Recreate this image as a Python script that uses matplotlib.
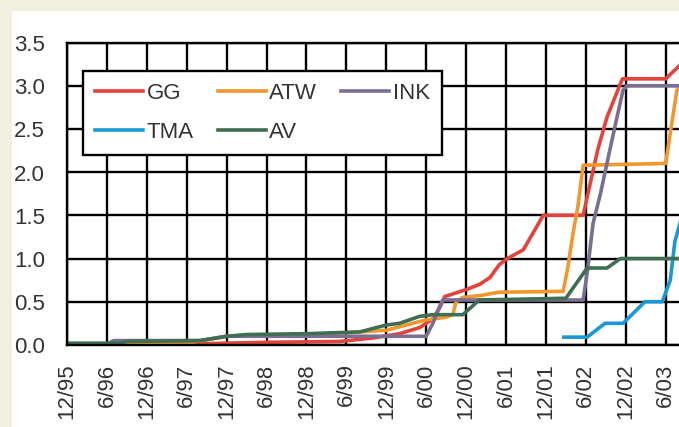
import matplotlib
matplotlib.use("Agg")
import matplotlib.pyplot as plt
from matplotlib.patches import Rectangle

# months counted from 12/95
tick_labels = ["12/95", "6/96", "12/96", "6/97", "12/97", "6/98", "12/98", "6/99",
               "12/99", "6/00", "12/00", "6/01", "12/01", "6/02", "12/02", "6/03"]

gg_x = [0, 18, 30, 41, 46, 50, 53, 55, 56.1, 56.8, 58, 60, 62, 63.6, 65, 66.2,
        68.6, 70.1, 71.6, 77.6, 78.2, 79.8, 81.2, 83.5, 90, 93]
gg_y = [0.01, 0.01, 0.03, 0.04, 0.08, 0.13, 0.2, 0.3, 0.44, 0.56, 0.59, 0.64, 0.7, 0.78,
        0.93, 1.0, 1.1, 1.3, 1.5, 1.5, 1.71, 2.26, 2.64, 3.08, 3.08, 3.3]

atw_x = [0, 18, 24, 36, 42, 48, 51, 54, 57, 58, 58.5, 59.5, 62, 65, 74.6, 75.3,
         76.1, 76.8, 77.6, 90, 91.7, 93]
atw_y = [0.0, 0.02, 0.1, 0.12, 0.14, 0.17, 0.23, 0.29, 0.32, 0.35, 0.5, 0.55, 0.57,
         0.61, 0.62, 0.9, 1.3, 1.6, 2.08, 2.1, 2.95, 3.0]

ink_x = [0, 6, 7, 20, 24, 30, 54, 55, 56.1, 56.5, 77.6, 78.2, 79.1, 80.2, 81.4,
         82.7, 83.6, 84.2, 93]
ink_y = [0.0, 0.01, 0.05, 0.05, 0.1, 0.1, 0.1, 0.25, 0.46, 0.52, 0.52, 0.83, 1.41,
         1.75, 2.18, 2.64, 2.95, 3.0, 3.0]

tma_x = [74.7, 78.2, 80.9, 83.6, 86.9, 89.5, 90.7, 91.4, 92.5]
tma_y = [0.09, 0.09, 0.25, 0.25, 0.5, 0.5, 0.75, 1.2, 1.5]

av_x = [0, 8, 9, 20, 24, 27, 36, 44, 48, 50, 53, 55, 59.5, 62, 75, 78.2, 81.2, 83.2, 93]
av_y = [0.02, 0.02, 0.04, 0.05, 0.1, 0.12, 0.13, 0.15, 0.23, 0.25, 0.33, 0.35, 0.35,
        0.52, 0.54, 0.89, 0.89, 1.0, 1.0]

plt.rcParams["font.family"] = ["Liberation Sans", "DejaVu Sans"]

W, H = 679, 427
fig = plt.figure(figsize=(6.795, 4.275), dpi=100, facecolor="#f1efe0")

# background: beige figure, white panel from (12, 11) down to the bottom right
bg = fig.add_axes([0, 0, 1, 1], zorder=-10)
bg.set_xlim(0, W)
bg.set_ylim(H, 0)
bg.axis("off")
bg.add_patch(Rectangle((12, 11), W + 10, H + 10, facecolor="white", edgecolor="none",
                       clip_on=False))

ax = fig.add_axes([67 / W, (H - 345) / H, 638 / W, 302 / H])
ax.patch.set_alpha(0)
lw = 2.6
ax.plot(gg_x, gg_y, color="#e2433a", lw=lw, label="GG")
ax.plot(atw_x, atw_y, color="#f0982e", lw=lw, label="ATW")
ax.plot(ink_x, ink_y, color="#7a6e93", lw=lw, label="INK")
ax.plot(tma_x, tma_y, color="#1a98d5", lw=lw, label="TMA")
ax.plot(av_x, av_y, color="#3f6e52", lw=lw, label="AV")

ax.set_xlim(0, 96)
ax.set_ylim(0, 3.5)
ax.set_xticks([6 * i for i in range(len(tick_labels))])
ax.set_xticklabels(tick_labels, rotation=90)
ax.set_yticks([0, 0.5, 1.0, 1.5, 2.0, 2.5, 3.0, 3.5])
ax.set_yticklabels(["0.0", "0.5", "1.0", "1.5", "2.0", "2.5", "3.0", "3.5"])
ax.tick_params(axis="both", length=0, labelsize=16, labelcolor="#333333", pad=13)
ax.tick_params(axis="y", pad=16)
ax.grid(True, color="black", lw=1.7)
ax.set_axisbelow(True)
for s in ax.spines.values():
    s.set_color("black")
    s.set_linewidth(1.7)

h, l = ax.get_legend_handles_labels()
order = [0, 3, 1, 4, 2]
leg = ax.legend([h[i] for i in order], [l[i] for i in order], ncol=3,
                loc="upper left", bbox_to_anchor=(16 / 638, (345 - 71) / 302),
                borderaxespad=0, fontsize=16, handlelength=2.15, handletextpad=0.15,
                columnspacing=1.1, labelspacing=0.8, borderpad=0.55,
                fancybox=False, framealpha=1, edgecolor="black", labelcolor="#333333")
leg.get_frame().set_linewidth(1.7)

fig.savefig("out.png", dpi=100, facecolor=fig.get_facecolor())
